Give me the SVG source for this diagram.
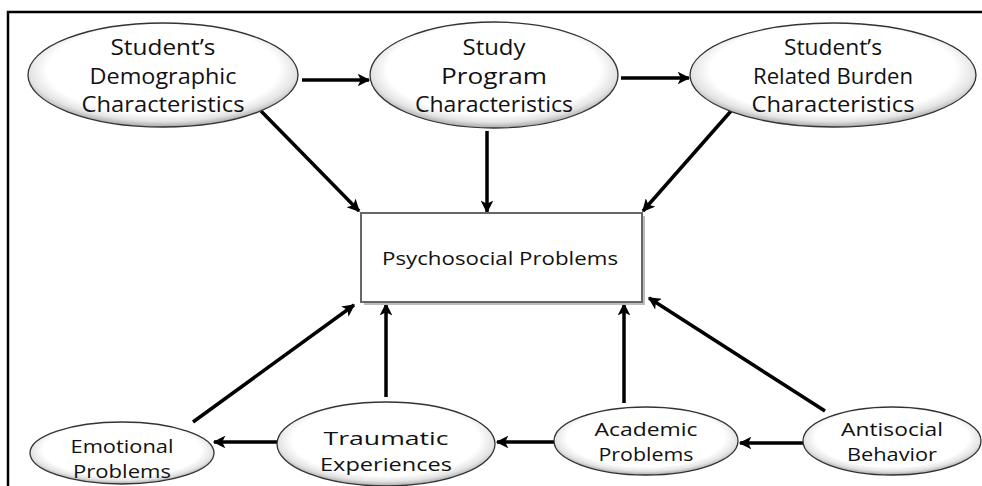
<svg xmlns="http://www.w3.org/2000/svg" width="982" height="486" viewBox="0 0 982 486">
<style>
.t{font-family:"Open Sans","Liberation Sans",sans-serif;fill:#111;text-anchor:middle}
.big{font-size:22px}
.sm{font-size:19px}
.xs{font-size:18px}
.el{fill:url(#g);stroke:#333;stroke-width:1.3}
.c{stroke:#000;stroke-width:3.5;fill:none;marker-end:url(#ah)}
</style>
<defs>
<radialGradient id="g" cx="0.5" cy="0.45" r="0.55">
<stop offset="0" stop-color="#fff"/>
<stop offset="0.78" stop-color="#fff"/>
<stop offset="0.9" stop-color="#e4e4e4"/>
<stop offset="1" stop-color="#a8a8a8"/>
</radialGradient>
<marker id="ah" viewBox="0 0 10 10" refX="9" refY="5" markerWidth="4.2" markerHeight="3.6" orient="auto" markerUnits="strokeWidth">
<path d="M0,0 L10,5 L0,10 L2.5,5 Z" fill="#000"/>
</marker>
</defs>
<rect width="982" height="486" fill="#fff"/>
<path d="M8,486 V12 H982" fill="none" stroke="#000" stroke-width="2.5"/>
<g id="connectors">
<line class="c" x1="302" y1="80" x2="369" y2="80"/>
<line class="c" x1="621" y1="78" x2="689" y2="78"/>
<line class="c" x1="261" y1="111" x2="359" y2="211"/>
<line class="c" x1="487" y1="131" x2="487" y2="212"/>
<line class="c" x1="731" y1="111" x2="643" y2="211"/>
<line class="c" x1="193" y1="422" x2="354" y2="305"/>
<line class="c" x1="386" y1="397" x2="386" y2="304"/>
<line class="c" x1="624" y1="403" x2="624" y2="304"/>
<line class="c" x1="825" y1="411" x2="649" y2="298"/>
<line class="c" x1="277" y1="442" x2="214" y2="442"/>
<line class="c" x1="554" y1="442" x2="497" y2="442"/>
<line class="c" x1="803" y1="443" x2="740" y2="443"/>
</g>
<g id="demographic">
<ellipse class="el" cx="163" cy="75" rx="135" ry="52"/>
<text class="t big" x="163" y="55" textLength="105" lengthAdjust="spacingAndGlyphs">Student’s</text>
<text class="t big" x="163" y="84" textLength="147" lengthAdjust="spacingAndGlyphs">Demographic</text>
<text class="t big" x="163" y="112" textLength="163" lengthAdjust="spacingAndGlyphs">Characteristics</text>
</g>
<g id="study">
<ellipse class="el" cx="494" cy="75" rx="124" ry="53"/>
<text class="t big" x="494" y="55" textLength="63" lengthAdjust="spacingAndGlyphs">Study</text>
<text class="t big" x="494" y="84" textLength="106" lengthAdjust="spacingAndGlyphs">Program</text>
<text class="t big" x="494" y="112" textLength="158" lengthAdjust="spacingAndGlyphs">Characteristics</text>
</g>
<g id="burden">
<ellipse class="el" cx="833" cy="75" rx="143" ry="52"/>
<text class="t big" x="833" y="55" textLength="98" lengthAdjust="spacingAndGlyphs">Student’s</text>
<text class="t big" x="833" y="84" textLength="160" lengthAdjust="spacingAndGlyphs">Related Burden</text>
<text class="t big" x="833" y="112" textLength="163" lengthAdjust="spacingAndGlyphs">Characteristics</text>
</g>
<g id="psychosocial">
<rect x="364" y="216" width="281" height="89" fill="#bbb"/>
<rect x="361" y="213" width="281" height="89" fill="#fff" stroke="#666" stroke-width="2"/>
<text class="t sm" x="500" y="265" textLength="236" lengthAdjust="spacingAndGlyphs">Psychosocial Problems</text>
</g>
<g id="emotional">
<ellipse class="el" cx="122" cy="453" rx="92" ry="31"/>
<text class="t xs" x="122" y="453" textLength="103" lengthAdjust="spacingAndGlyphs">Emotional</text>
<text class="t xs" x="122" y="478" textLength="98" lengthAdjust="spacingAndGlyphs">Problems</text>
</g>
<g id="traumatic">
<ellipse class="el" cx="386" cy="444" rx="109" ry="42"/>
<text class="t sm" x="386" y="445" textLength="125" lengthAdjust="spacingAndGlyphs">Traumatic</text>
<text class="t sm" x="386" y="471" textLength="132" lengthAdjust="spacingAndGlyphs">Experiences</text>
</g>
<g id="academic">
<ellipse class="el" cx="646" cy="441" rx="92" ry="34"/>
<text class="t sm" x="646" y="436" textLength="103" lengthAdjust="spacingAndGlyphs">Academic</text>
<text class="t sm" x="646" y="461" textLength="95" lengthAdjust="spacingAndGlyphs">Problems</text>
</g>
<g id="antisocial">
<ellipse class="el" cx="892" cy="441" rx="89" ry="34"/>
<text class="t sm" x="892" y="436" textLength="102" lengthAdjust="spacingAndGlyphs">Antisocial</text>
<text class="t sm" x="892" y="461" textLength="90" lengthAdjust="spacingAndGlyphs">Behavior</text>
</g>
</svg>
